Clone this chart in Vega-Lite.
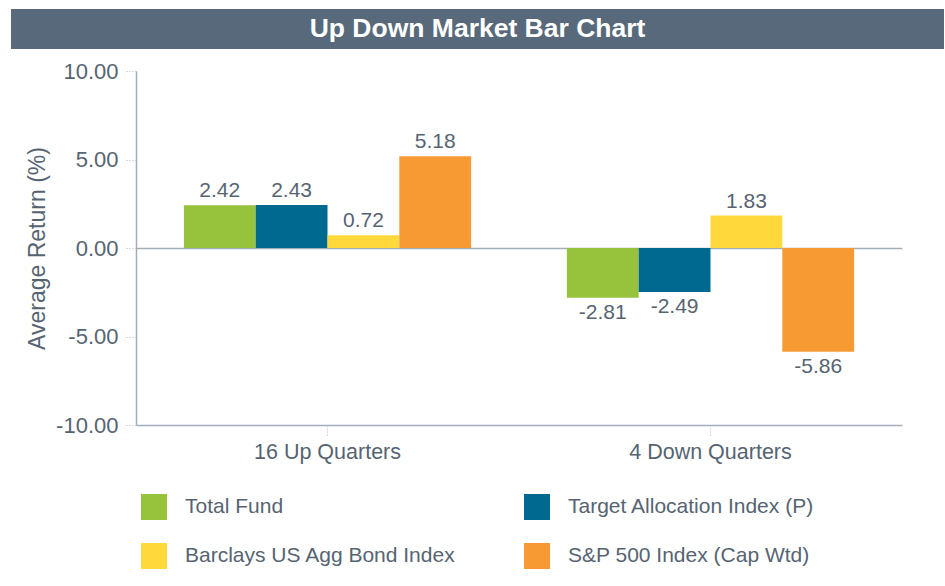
{
  "$schema": "https://vega.github.io/schema/vega-lite/v6.json",
  "background": "white",
  "padding": {"left": 11, "top": 9, "right": 1, "bottom": 0},
  "bounds": "flush",
  "spacing": 22,
  "config": {
    "view": {"stroke": null},
    "font": "Liberation Sans",
    "locale": {"number": {"decimal": ".", "thousands": ",", "grouping": [3], "currency": ["$", ""], "minus": "-"}}
  },
  "datasets": {
    "returns": [
      {"period": "16 Up Quarters", "series": "Total Fund", "value": 2.42},
      {"period": "16 Up Quarters", "series": "Target Allocation Index (P)", "value": 2.43},
      {"period": "16 Up Quarters", "series": "Barclays US Agg Bond Index", "value": 0.72},
      {"period": "16 Up Quarters", "series": "S&P 500 Index (Cap Wtd)", "value": 5.18},
      {"period": "4 Down Quarters", "series": "Total Fund", "value": -2.81},
      {"period": "4 Down Quarters", "series": "Target Allocation Index (P)", "value": -2.49},
      {"period": "4 Down Quarters", "series": "Barclays US Agg Bond Index", "value": 1.83},
      {"period": "4 Down Quarters", "series": "S&P 500 Index (Cap Wtd)", "value": -5.86}
    ]
  },
  "vconcat": [
    {
      "width": 933,
      "height": 40,
      "view": {"fill": "#57697a", "stroke": null},
      "data": {"values": [{"title": "Up Down Market Bar Chart"}]},
      "mark": {"type": "text", "fontSize": 26.5, "fontWeight": "bold", "color": "white", "font": "Liberation Sans"},
      "encoding": {"text": {"field": "title"}}
    },
    {
      "width": 933,
      "height": 354,
      "data": {"name": "returns"},
      "encoding": {
        "x": {
          "field": "period", "type": "nominal",
          "sort": ["16 Up Quarters", "4 Down Quarters"],
          "scale": {"range": [125, 891], "paddingInner": 0.25, "paddingOuter": 0.125},
          "axis": {
            "title": null, "labelAngle": 0, "labelFontSize": 21.5, "labelColor": "#566472",
            "labelPadding": 6, "tickSize": 10, "tickDash": [1, 2], "tickColor": "#b5b5b5",
            "domainColor": "#a3aebb", "domainWidth": 1.5, "grid": false
          }
        },
        "xOffset": {
          "field": "series", "type": "nominal",
          "sort": ["Total Fund", "Target Allocation Index (P)", "Barclays US Agg Bond Index", "S&P 500 Index (Cap Wtd)"],
          "scale": {"paddingInner": 0, "paddingOuter": 0}
        },
        "y": {
          "field": "value", "type": "quantitative",
          "scale": {"domain": [-10, 10], "nice": false},
          "axis": {
            "title": "Average Return (%)", "titleFontSize": 23, "titleFontWeight": "normal",
            "titleColor": "#566472", "titlePadding": 6,
            "values": [-10, -5, 0, 5, 10], "format": ".2f",
            "labelFontSize": 22, "labelColor": "#566472", "labelPadding": 8,
            "tickSize": 10, "tickDash": [1, 2], "tickColor": "#b5b5b5",
            "domainColor": "#a3aebb", "domainWidth": 1.5, "offset": -125,
            "grid": true,
            "gridColor": {"condition": {"test": "datum.value === 0", "value": "#a3aebb"}, "value": "transparent"},
            "gridWidth": 1.5
          }
        }
      },
      "layer": [
        {
          "mark": {"type": "bar"},
          "encoding": {
            "color": {
              "field": "series", "type": "nominal",
              "scale": {
                "domain": ["Total Fund", "Target Allocation Index (P)", "Barclays US Agg Bond Index", "S&P 500 Index (Cap Wtd)"],
                "range": ["#97c23c", "#00698f", "#ffd93c", "#f89a33"]
              },
              "legend": {
                "title": null, "orient": "none", "legendX": 130, "legendY": 485,
                "direction": "horizontal", "columns": 2, "columnPadding": 68, "rowPadding": 23,
                "symbolType": "square", "symbolSize": 676, "symbolStrokeWidth": 0,
                "labelFontSize": 21, "labelColor": "#566472", "labelOffset": 18,
                "labelLimit": 400, "padding": 0
              }
            }
          }
        },
        {
          "transform": [{"filter": "datum.value >= 0"}],
          "mark": {"type": "text", "fontSize": 21, "color": "#566472", "baseline": "alphabetic", "dy": -8},
          "encoding": {"text": {"field": "value", "format": ".2f"}}
        },
        {
          "transform": [{"filter": "datum.value < 0"}],
          "mark": {"type": "text", "fontSize": 21, "color": "#566472", "baseline": "top", "dy": 4},
          "encoding": {"text": {"field": "value", "format": ".2f"}}
        }
      ]
    }
  ]
}
